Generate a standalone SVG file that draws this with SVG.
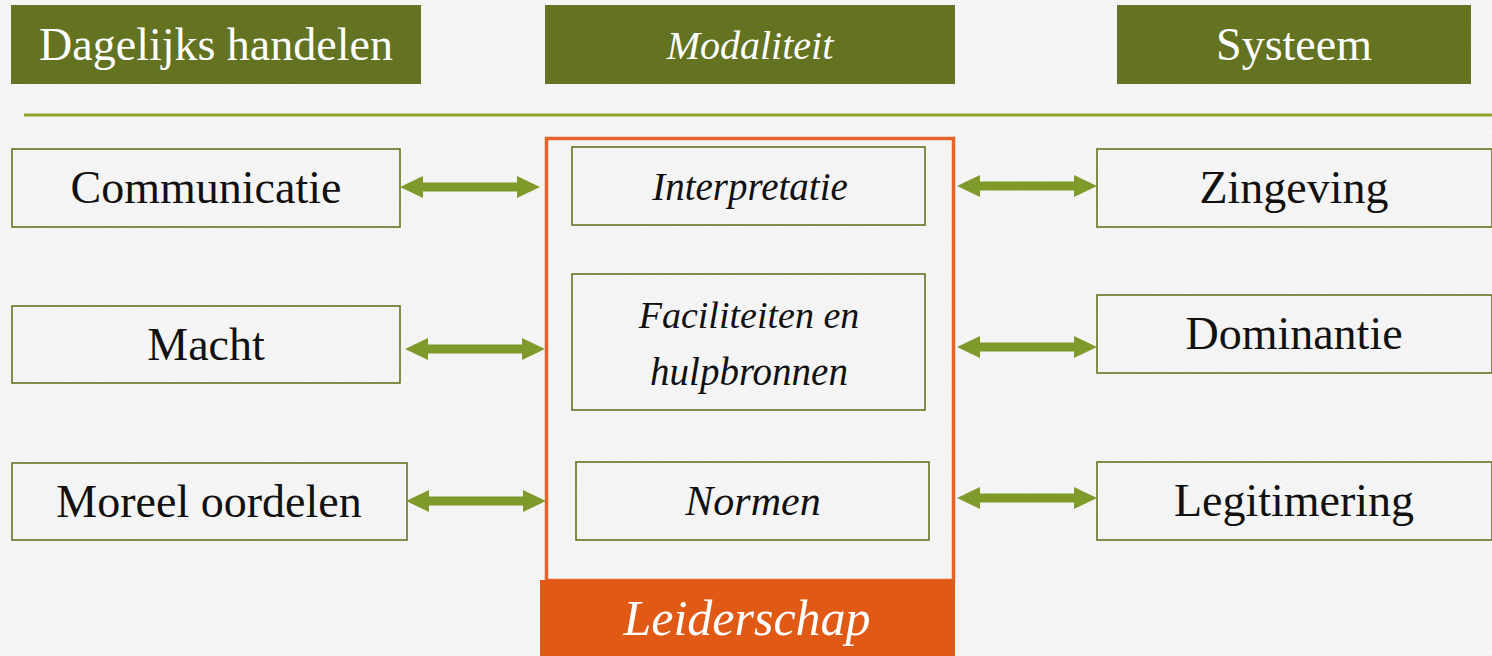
<svg xmlns="http://www.w3.org/2000/svg" width="1492" height="656" viewBox="0 0 1492 656" font-family="Liberation Serif, serif">
<defs>
<pattern id="bgp" width="6" height="6" patternUnits="userSpaceOnUse" patternTransform="rotate(-35)">
<rect width="6" height="6" fill="#f5f5f5"/>
<line x1="0" y1="0" x2="6" y2="0" stroke="#ececec" stroke-width="1"/>
</pattern>
<polygon id="arr" points="0,0 23,-11 23,-4.5 117,-4.5 117,-11 140,0 117,11 117,4.5 23,4.5 23,11"/>
</defs>
<style>
.hdr{fill:#637321}
.box{fill:none;stroke:#637321;stroke-width:1.6}
.t{font-size:46px;fill:#111;text-anchor:middle}
.h{font-size:46px;fill:#ffffff;text-anchor:middle}
.i{font-style:italic;font-size:39px}
.a{fill:#7f9a2a}
</style>
<rect width="1492" height="656" fill="url(#bgp)"/>
<g id="header-dagelijks"><rect class="hdr" x="11" y="5" width="410" height="79"/><text class="h" x="216" y="60">Dagelijks handelen</text></g>
<g id="header-modaliteit"><rect class="hdr" x="545" y="5" width="410" height="79"/><text class="h i" x="750" y="59" style="font-size:40px">Modaliteit</text></g>
<g id="header-systeem"><rect class="hdr" x="1117" y="5" width="354" height="79"/><text class="h" x="1294" y="60">Systeem</text></g>
<line x1="24" y1="115" x2="1492" y2="115" stroke="#8ca52a" stroke-width="3"/>
<g id="leiderschap-frame"><rect x="546.5" y="138.5" width="407" height="442" fill="none" stroke="#e3632a" stroke-width="3.5"/></g>
<g id="leiderschap"><rect x="540" y="580" width="415" height="76" fill="#e05a16"/><text class="h i" x="747" y="635" style="font-size:50px">Leiderschap</text></g>
<g id="communicatie"><rect class="box" x="12" y="149" width="388" height="78"/><text class="t" x="206" y="203">Communicatie</text></g>
<g id="macht"><rect class="box" x="12" y="306" width="388" height="77"/><text class="t" x="206" y="360">Macht</text></g>
<g id="moreel"><rect class="box" x="12" y="463" width="395" height="77"/><text class="t" x="209" y="517">Moreel oordelen</text></g>
<g id="interpretatie"><rect class="box" x="572" y="147" width="353" height="78"/><text class="t i" x="750" y="200">Interpretatie</text></g>
<g id="faciliteiten"><rect class="box" x="572" y="274" width="353" height="136"/><text class="t i" x="749" y="328" style="font-size:38px">Faciliteiten en</text><text class="t i" x="749" y="385">hulpbronnen</text></g>
<g id="normen"><rect class="box" x="576" y="462" width="353" height="78"/><text class="t i" x="753" y="515" style="font-size:42px">Normen</text></g>
<g id="zingeving"><rect class="box" x="1097" y="149" width="395" height="78"/><text class="t" x="1294" y="203">Zingeving</text></g>
<g id="dominantie"><rect class="box" x="1097" y="295" width="395" height="78"/><text class="t" x="1294" y="349">Dominantie</text></g>
<g id="legitimering"><rect class="box" x="1097" y="462" width="395" height="78"/><text class="t" x="1294" y="516">Legitimering</text></g>
<g id="connectors" class="a">
<use href="#arr" x="400" y="187"/>
<use href="#arr" x="405" y="349"/>
<use href="#arr" x="406" y="501"/>
<use href="#arr" x="957" y="186"/>
<use href="#arr" x="957" y="347"/>
<use href="#arr" x="957" y="498"/>
</g>
</svg>
